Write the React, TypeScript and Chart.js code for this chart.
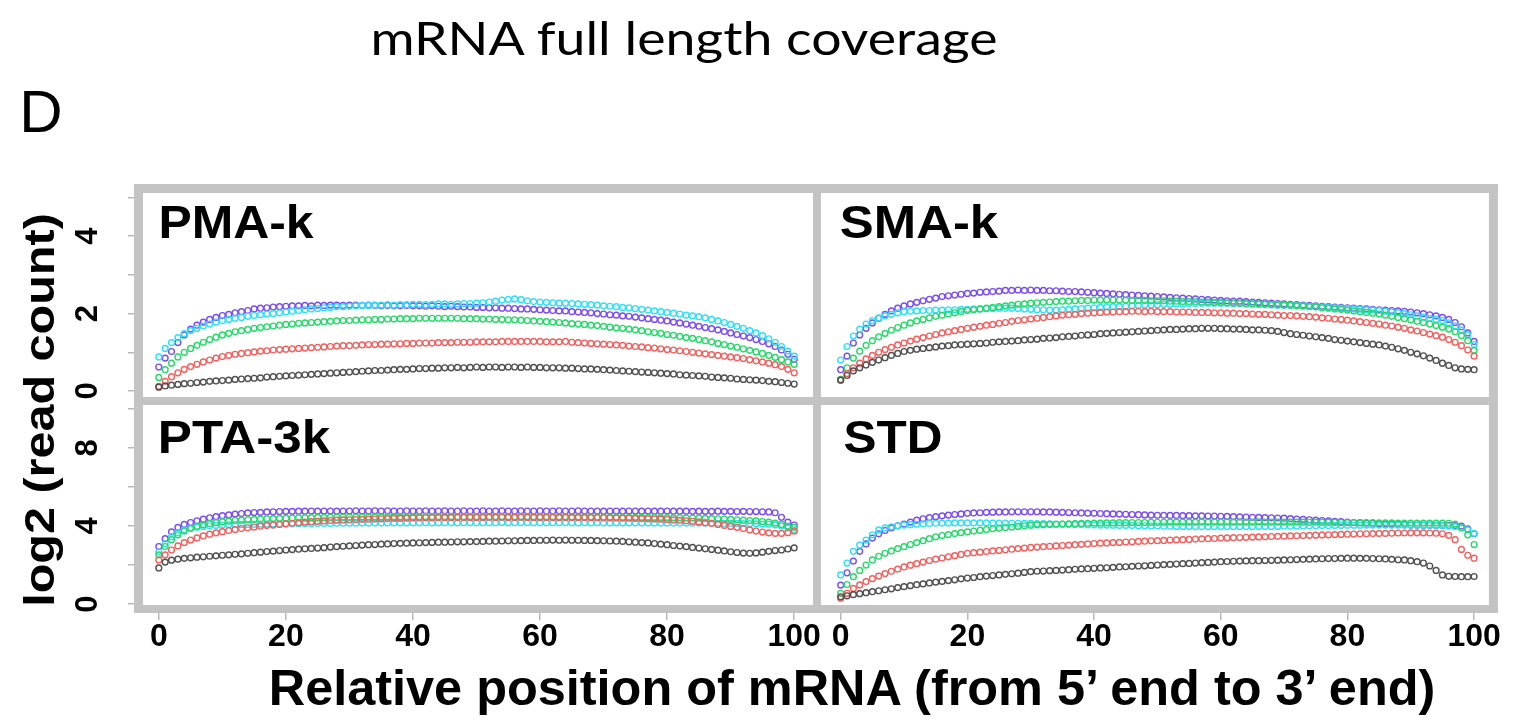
import React, { useEffect, useLayoutEffect, useRef, useState } from 'react';
import { Chart, registerables } from 'chart.js';

Chart.register(...registerables);

// ---------------- data ----------------
const POSITIONS: number[] = Array.from({ length: 101 }, (_, i) => i);
const X_TICKS = [0, 20, 40, 60, 80, 100];
const Y_TOP_TICKS = [0, 1, 2, 3, 4, 5];
const Y_TOP_LABELS = [0, 2, 4];
const Y_BOTTOM_TICKS = [0, 2, 4, 6, 8, 10];
const Y_BOTTOM_LABELS = [0, 4, 8];
const PANEL_NAMES = ['PMA-k', 'SMA-k', 'PTA-3k', 'STD'];
const SERIES_COLORS = ['#505050', '#f0605e', '#27d86a', '#2ee0f5', '#7b4cf2'];

const PMA_K_PURPLE = [0.62, 0.85, 1.02, 1.25, 1.45, 1.6, 1.7, 1.78, 1.85, 1.9, 1.95,
  1.98, 2.02, 2.05, 2.08, 2.12, 2.14, 2.15, 2.17, 2.18, 2.19,
  2.2, 2.2, 2.21, 2.2, 2.22, 2.21, 2.22, 2.22, 2.21, 2.22,
  2.22, 2.21, 2.22, 2.21, 2.2, 2.21, 2.2, 2.2, 2.21, 2.2,
  2.2, 2.19, 2.2, 2.19, 2.18, 2.19, 2.18, 2.17, 2.17, 2.16,
  2.16, 2.15, 2.15, 2.14, 2.14, 2.13, 2.12, 2.12, 2.11, 2.1,
  2.09, 2.08, 2.07, 2.07, 2.05, 2.04, 2.03, 2.02, 2.0, 1.99,
  1.97, 1.96, 1.94, 1.93, 1.91, 1.89, 1.87, 1.85, 1.83, 1.81,
  1.78, 1.76, 1.73, 1.7, 1.67, 1.64, 1.61, 1.58, 1.54, 1.5,
  1.46, 1.42, 1.38, 1.33, 1.28, 1.22, 1.15, 1.06, 0.95, 0.82, 0.65];
const PMA_K_CYAN = [0.88, 1.1, 1.25, 1.38, 1.48, 1.56, 1.62, 1.68, 1.73, 1.78, 1.82,
  1.85, 1.88, 1.9, 1.93, 1.95, 1.97, 1.99, 2.0, 2.02, 2.04,
  2.06, 2.08, 2.1, 2.12, 2.13, 2.15, 2.16, 2.18, 2.18, 2.19,
  2.2, 2.21, 2.21, 2.22, 2.22, 2.23, 2.22, 2.23, 2.23, 2.24,
  2.24, 2.23, 2.24, 2.25, 2.25, 2.24, 2.25, 2.26, 2.26, 2.27,
  2.28, 2.3, 2.32, 2.35, 2.37, 2.38, 2.36, 2.33, 2.31, 2.3,
  2.29, 2.28, 2.27, 2.27, 2.26, 2.25, 2.24, 2.23, 2.22, 2.2,
  2.19, 2.18, 2.16, 2.15, 2.13, 2.11, 2.09, 2.07, 2.05, 2.03,
  2.01, 1.99, 1.96, 1.94, 1.92, 1.89, 1.85, 1.81, 1.77, 1.72,
  1.67, 1.62, 1.56, 1.5, 1.43, 1.35, 1.26, 1.15, 1.03, 0.9, 0.76];
const PMA_K_GREEN = [0.35, 0.55, 0.72, 0.88, 1.0, 1.1, 1.18, 1.26, 1.33, 1.39, 1.45,
  1.49, 1.53, 1.56, 1.59, 1.62, 1.64, 1.66, 1.68, 1.7, 1.72,
  1.73, 1.75, 1.76, 1.77, 1.78, 1.79, 1.8, 1.81, 1.82, 1.82,
  1.83, 1.84, 1.84, 1.85, 1.85, 1.86, 1.86, 1.87, 1.87, 1.87,
  1.88, 1.88, 1.88, 1.88, 1.88, 1.88, 1.88, 1.87, 1.87, 1.87,
  1.86, 1.86, 1.85, 1.85, 1.84, 1.84, 1.83, 1.82, 1.81, 1.8,
  1.79, 1.78, 1.77, 1.76, 1.74, 1.73, 1.72, 1.7, 1.69, 1.67,
  1.65, 1.63, 1.62, 1.6, 1.58, 1.56, 1.53, 1.51, 1.49, 1.46,
  1.44, 1.41, 1.38, 1.36, 1.33, 1.3, 1.27, 1.23, 1.2, 1.16,
  1.13, 1.09, 1.05, 1.01, 0.97, 0.92, 0.87, 0.81, 0.75, 0.69, 0.62];
const PMA_K_RED = [0.12, 0.25, 0.37, 0.47, 0.56, 0.63, 0.69, 0.75, 0.8, 0.85, 0.89,
  0.92, 0.95, 0.97, 0.99, 1.01, 1.03, 1.04, 1.06, 1.07, 1.08,
  1.09, 1.1, 1.11, 1.12, 1.13, 1.14, 1.15, 1.16, 1.17, 1.17,
  1.18, 1.19, 1.2, 1.2, 1.21, 1.21, 1.22, 1.22, 1.23, 1.23,
  1.24, 1.24, 1.24, 1.25, 1.25, 1.25, 1.26, 1.26, 1.26, 1.27,
  1.27, 1.27, 1.27, 1.28, 1.28, 1.28, 1.28, 1.28, 1.28, 1.28,
  1.27, 1.27, 1.27, 1.28, 1.26, 1.25, 1.24, 1.23, 1.22, 1.21,
  1.2, 1.19, 1.18, 1.16, 1.15, 1.14, 1.12, 1.11, 1.09, 1.07,
  1.06, 1.04, 1.02, 1.0, 0.98, 0.96, 0.94, 0.92, 0.9, 0.88,
  0.86, 0.84, 0.81, 0.78, 0.75, 0.72, 0.68, 0.63, 0.56, 0.47, 0.37];
const PMA_K_BLACK = [0.1, 0.13, 0.15, 0.17, 0.19, 0.2, 0.22, 0.23, 0.25, 0.26, 0.27,
  0.28, 0.3, 0.31, 0.32, 0.33, 0.34, 0.36, 0.37, 0.38, 0.39,
  0.4, 0.41, 0.42, 0.43, 0.44, 0.45, 0.46, 0.47, 0.48, 0.49,
  0.5, 0.51, 0.52, 0.53, 0.53, 0.54, 0.55, 0.56, 0.56, 0.57,
  0.58, 0.58, 0.59, 0.59, 0.6, 0.6, 0.61, 0.6, 0.61, 0.62,
  0.61, 0.62, 0.62, 0.61, 0.62, 0.62, 0.61, 0.62, 0.61, 0.61,
  0.6, 0.6, 0.6, 0.59, 0.59, 0.58, 0.57, 0.57, 0.56, 0.55,
  0.54, 0.53, 0.52, 0.51, 0.5, 0.49, 0.48, 0.47, 0.46, 0.45,
  0.44, 0.42, 0.41, 0.4, 0.39, 0.38, 0.36, 0.35, 0.34, 0.33,
  0.31, 0.3, 0.29, 0.28, 0.27, 0.25, 0.24, 0.22, 0.2, 0.18, 0.16];

const SMA_K_PURPLE = [0.55, 0.9, 1.24, 1.45, 1.62, 1.76, 1.88, 1.98, 2.07, 2.14, 2.2,
  2.25, 2.29, 2.33, 2.37, 2.4, 2.44, 2.46, 2.48, 2.5, 2.52,
  2.53, 2.55, 2.56, 2.57, 2.58, 2.6, 2.6, 2.61, 2.6, 2.61,
  2.6, 2.6, 2.59, 2.59, 2.58, 2.57, 2.57, 2.56, 2.55, 2.54,
  2.53, 2.52, 2.51, 2.5, 2.49, 2.48, 2.47, 2.46, 2.45, 2.44,
  2.43, 2.42, 2.41, 2.4, 2.39, 2.38, 2.37, 2.36, 2.35, 2.34,
  2.33, 2.32, 2.32, 2.31, 2.3, 2.29, 2.28, 2.27, 2.26, 2.25,
  2.24, 2.23, 2.22, 2.21, 2.2, 2.19, 2.18, 2.17, 2.16, 2.15,
  2.14, 2.13, 2.12, 2.11, 2.1, 2.09, 2.08, 2.07, 2.06, 2.04,
  2.02, 2.0, 1.97, 1.94, 1.9, 1.85, 1.77, 1.66, 1.5, 1.28, 1.02];
const SMA_K_CYAN = [0.8, 1.15, 1.42, 1.6, 1.73, 1.82, 1.89, 1.94, 1.98, 2.02, 2.05,
  2.06, 2.07, 2.08, 2.08, 2.09, 2.09, 2.1, 2.1, 2.11, 2.11,
  2.12, 2.12, 2.13, 2.13, 2.14, 2.14, 2.14, 2.13, 2.12, 2.11,
  2.1, 2.1, 2.09, 2.09, 2.1, 2.11, 2.12, 2.13, 2.14, 2.15,
  2.16, 2.17, 2.18, 2.18, 2.19, 2.2, 2.21, 2.22, 2.22, 2.23,
  2.24, 2.24, 2.25, 2.25, 2.26, 2.26, 2.27, 2.27, 2.27, 2.27,
  2.27, 2.26, 2.26, 2.25, 2.25, 2.24, 2.24, 2.23, 2.23, 2.22,
  2.22, 2.21, 2.2, 2.19, 2.18, 2.17, 2.16, 2.15, 2.14, 2.13,
  2.12, 2.11, 2.1, 2.09, 2.08, 2.06, 2.04, 2.02, 2.0, 1.97,
  1.94, 1.91, 1.88, 1.85, 1.82, 1.76, 1.68, 1.58, 1.45, 1.2, 0.93];
const SMA_K_GREEN = [0.3, 0.6, 0.85, 1.03, 1.18, 1.3, 1.4, 1.49, 1.57, 1.64, 1.7,
  1.76, 1.81, 1.85, 1.89, 1.93, 1.96, 1.99, 2.02, 2.05, 2.08,
  2.1, 2.12, 2.14, 2.16, 2.18, 2.2, 2.22, 2.24, 2.25, 2.27,
  2.28, 2.29, 2.3, 2.31, 2.32, 2.32, 2.33, 2.34, 2.34, 2.35,
  2.35, 2.35, 2.35, 2.35, 2.35, 2.34, 2.34, 2.34, 2.33, 2.33,
  2.33, 2.32, 2.32, 2.31, 2.31, 2.31, 2.3, 2.3, 2.29, 2.29,
  2.28, 2.27, 2.27, 2.26, 2.25, 2.25, 2.24, 2.23, 2.22, 2.22,
  2.21, 2.2, 2.19, 2.18, 2.17, 2.15, 2.14, 2.12, 2.11, 2.09,
  2.07, 2.05, 2.03, 2.01, 1.99, 1.96, 1.93, 1.9, 1.87, 1.84,
  1.8, 1.77, 1.73, 1.69, 1.65, 1.6, 1.53, 1.43, 1.3, 1.05, 0.76];
const SMA_K_RED = [0.28, 0.45, 0.6, 0.72, 0.83, 0.92, 1.0, 1.07, 1.13, 1.19, 1.24,
  1.29, 1.34, 1.38, 1.42, 1.46, 1.5, 1.53, 1.56, 1.59, 1.62,
  1.65, 1.67, 1.7, 1.72, 1.75, 1.77, 1.8, 1.82, 1.84, 1.86,
  1.88, 1.9, 1.92, 1.94, 1.96, 1.97, 1.98, 2.0, 2.01, 2.02,
  2.03, 2.04, 2.04, 2.05, 2.05, 2.06, 2.06, 2.05, 2.06, 2.05,
  2.05, 2.05, 2.04, 2.04, 2.04, 2.03, 2.03, 2.03, 2.02, 2.02,
  2.01, 2.01, 2.0, 2.0, 1.99, 1.98, 1.98, 1.97, 1.96, 1.95,
  1.95, 1.94, 1.93, 1.92, 1.91, 1.89, 1.88, 1.86, 1.85, 1.83,
  1.81, 1.79, 1.77, 1.75, 1.73, 1.7, 1.68, 1.65, 1.62, 1.58,
  1.55, 1.51, 1.47, 1.43, 1.39, 1.33, 1.26, 1.17, 1.06, 0.9, 0.76];
const SMA_K_BLACK = [0.28, 0.4, 0.52, 0.6, 0.67, 0.74, 0.8, 0.86, 0.92, 0.97, 1.02,
  1.05, 1.08, 1.1, 1.12, 1.14, 1.16, 1.17, 1.19, 1.2, 1.21,
  1.22, 1.23, 1.24, 1.26, 1.27, 1.28, 1.29, 1.3, 1.32, 1.33,
  1.34, 1.36, 1.37, 1.38, 1.4, 1.41, 1.42, 1.44, 1.45, 1.46,
  1.48, 1.49, 1.5, 1.51, 1.52, 1.53, 1.54, 1.55, 1.56, 1.57,
  1.58, 1.59, 1.59, 1.6, 1.61, 1.61, 1.62, 1.62, 1.62, 1.61,
  1.61, 1.6, 1.6, 1.59, 1.58, 1.58, 1.57, 1.56, 1.54, 1.51,
  1.48, 1.46, 1.44, 1.42, 1.4, 1.38, 1.36, 1.33, 1.31, 1.29,
  1.27, 1.25, 1.23, 1.21, 1.19, 1.16, 1.13, 1.09, 1.05, 1.0,
  0.96, 0.91, 0.85, 0.79, 0.72, 0.66, 0.6, 0.57, 0.56, 0.55, 0.54];

const PTA_3K_PURPLE = [2.95, 3.35, 3.7, 3.93, 4.08, 4.18, 4.27, 4.35, 4.42, 4.48, 4.53,
  4.57, 4.61, 4.64, 4.67, 4.69, 4.7, 4.72, 4.73, 4.74, 4.75,
  4.75, 4.76, 4.76, 4.77, 4.76, 4.77, 4.77, 4.76, 4.77, 4.77,
  4.78, 4.77, 4.77, 4.78, 4.77, 4.78, 4.77, 4.77, 4.78, 4.77,
  4.77, 4.78, 4.77, 4.77, 4.78, 4.77, 4.77, 4.78, 4.77, 4.77,
  4.78, 4.77, 4.77, 4.78, 4.77, 4.77, 4.78, 4.77, 4.77, 4.78,
  4.77, 4.77, 4.78, 4.77, 4.77, 4.78, 4.77, 4.77, 4.77, 4.76,
  4.77, 4.77, 4.76, 4.77, 4.77, 4.76, 4.77, 4.76, 4.76, 4.77,
  4.76, 4.76, 4.76, 4.75, 4.76, 4.75, 4.75, 4.76, 4.75, 4.75,
  4.74, 4.75, 4.74, 4.74, 4.73, 4.72, 4.68, 4.45, 4.2, 4.05, 3.98];
const PTA_3K_CYAN = [2.68, 3.1, 3.45, 3.66, 3.8, 3.88, 3.94, 3.98, 4.01, 4.03, 4.05,
  4.06, 4.07, 4.08, 4.08, 4.09, 4.09, 4.1, 4.1, 4.1, 4.11,
  4.11, 4.12, 4.12, 4.12, 4.13, 4.13, 4.13, 4.14, 4.14, 4.14,
  4.14, 4.15, 4.15, 4.15, 4.15, 4.16, 4.16, 4.16, 4.16, 4.16,
  4.17, 4.17, 4.16, 4.17, 4.17, 4.17, 4.16, 4.17, 4.17, 4.17,
  4.17, 4.17, 4.17, 4.18, 4.17, 4.17, 4.17, 4.18, 4.17, 4.17,
  4.17, 4.17, 4.17, 4.17, 4.17, 4.16, 4.17, 4.16, 4.17, 4.16,
  4.16, 4.16, 4.16, 4.16, 4.16, 4.15, 4.16, 4.15, 4.15, 4.15,
  4.15, 4.15, 4.15, 4.14, 4.15, 4.14, 4.14, 4.14, 4.13, 4.13,
  4.13, 4.12, 4.12, 4.11, 4.1, 4.09, 4.06, 4.0, 3.9, 3.8, 3.71];
const PTA_3K_GREEN = [2.52, 2.95, 3.3, 3.55, 3.74, 3.88, 3.99, 4.07, 4.13, 4.18, 4.22,
  4.25, 4.28, 4.3, 4.32, 4.34, 4.36, 4.37, 4.38, 4.39, 4.4,
  4.41, 4.42, 4.42, 4.43, 4.44, 4.44, 4.45, 4.45, 4.46, 4.46,
  4.46, 4.47, 4.47, 4.47, 4.47, 4.48, 4.48, 4.48, 4.48, 4.48,
  4.48, 4.49, 4.48, 4.49, 4.48, 4.49, 4.48, 4.48, 4.49, 4.48,
  4.49, 4.48, 4.48, 4.49, 4.48, 4.48, 4.49, 4.48, 4.48, 4.48,
  4.48, 4.48, 4.47, 4.48, 4.47, 4.47, 4.47, 4.47, 4.46, 4.46,
  4.46, 4.46, 4.45, 4.45, 4.45, 4.44, 4.44, 4.44, 4.43, 4.43,
  4.42, 4.42, 4.41, 4.41, 4.4, 4.39, 4.38, 4.37, 4.36, 4.34,
  4.32, 4.3, 4.28, 4.26, 4.23, 4.2, 4.15, 4.08, 4.0, 3.93, 3.88];
const PTA_3K_RED = [2.26, 2.52, 2.77, 2.98, 3.15, 3.28, 3.39, 3.49, 3.58, 3.65, 3.71,
  3.77, 3.82, 3.87, 3.91, 3.95, 3.99, 4.02, 4.05, 4.08, 4.11,
  4.14, 4.17, 4.2, 4.22, 4.24, 4.26, 4.28, 4.3, 4.31, 4.32,
  4.33, 4.34, 4.35, 4.36, 4.37, 4.38, 4.39, 4.39, 4.4, 4.41,
  4.41, 4.42, 4.42, 4.43, 4.43, 4.43, 4.44, 4.44, 4.44, 4.44,
  4.44, 4.45, 4.44, 4.45, 4.44, 4.44, 4.45, 4.44, 4.44, 4.44,
  4.44, 4.44, 4.43, 4.44, 4.43, 4.43, 4.43, 4.42, 4.42, 4.42,
  4.41, 4.41, 4.4, 4.4, 4.39, 4.38, 4.37, 4.36, 4.35, 4.33,
  4.31, 4.29, 4.27, 4.24, 4.21, 4.17, 4.13, 4.08, 4.03, 3.98,
  3.93, 3.87, 3.8, 3.74, 3.69, 3.65, 3.62, 3.62, 3.66, 3.73, 3.79];
const PTA_3K_BLACK = [1.85, 2.15, 2.25, 2.3, 2.34, 2.37, 2.4, 2.42, 2.45, 2.47, 2.5,
  2.52, 2.55, 2.57, 2.6, 2.63, 2.66, 2.69, 2.71, 2.74, 2.77,
  2.79, 2.81, 2.83, 2.85, 2.87, 2.89, 2.92, 2.94, 2.96, 2.98,
  3.0, 3.02, 3.04, 3.05, 3.07, 3.08, 3.1, 3.11, 3.12, 3.13,
  3.14, 3.15, 3.16, 3.17, 3.17, 3.18, 3.19, 3.19, 3.2, 3.2,
  3.21, 3.22, 3.22, 3.23, 3.24, 3.24, 3.25, 3.26, 3.26, 3.27,
  3.27, 3.28, 3.27, 3.28, 3.27, 3.27, 3.26, 3.26, 3.25, 3.24,
  3.23, 3.22, 3.21, 3.19, 3.17, 3.15, 3.13, 3.1, 3.07, 3.04,
  3.0, 2.97, 2.94, 2.9, 2.87, 2.83, 2.8, 2.76, 2.72, 2.68,
  2.64, 2.61, 2.6, 2.62, 2.66, 2.7, 2.74, 2.77, 2.82, 2.88, 2.94];

const STD_PURPLE = [0.97, 1.6, 2.2, 2.7, 3.08, 3.38, 3.6, 3.77, 3.9, 4.01, 4.1,
  4.2, 4.3, 4.37, 4.43, 4.48, 4.52, 4.56, 4.59, 4.62, 4.65,
  4.67, 4.68, 4.7, 4.71, 4.72, 4.72, 4.73, 4.73, 4.73, 4.73,
  4.73, 4.72, 4.72, 4.71, 4.7, 4.69, 4.68, 4.67, 4.66, 4.65,
  4.64, 4.63, 4.62, 4.61, 4.6, 4.59, 4.58, 4.57, 4.56, 4.55,
  4.55, 4.54, 4.54, 4.53, 4.53, 4.52, 4.52, 4.51, 4.51, 4.5,
  4.49, 4.48, 4.47, 4.46, 4.45, 4.44, 4.43, 4.42, 4.41, 4.4,
  4.38, 4.36, 4.34, 4.32, 4.3, 4.28, 4.26, 4.24, 4.22, 4.2,
  4.18, 4.17, 4.15, 4.14, 4.12, 4.11, 4.1, 4.08, 4.07, 4.05,
  4.05, 4.04, 4.04, 4.03, 4.03, 4.02, 4.02, 4.0, 3.85, 3.6, 3.25];
const STD_CYAN = [1.49, 2.1, 2.7, 3.02, 3.28, 3.55, 3.8, 3.9, 3.96, 4.01, 4.05,
  4.07, 4.09, 4.11, 4.13, 4.14, 4.15, 4.15, 4.16, 4.16, 4.16,
  4.16, 4.16, 4.16, 4.15, 4.15, 4.15, 4.14, 4.14, 4.13, 4.13,
  4.12, 4.12, 4.11, 4.1, 4.1, 4.09, 4.08, 4.08, 4.07, 4.06,
  4.05, 4.05, 4.04, 4.03, 4.03, 4.02, 4.01, 4.01, 4.0, 4.0,
  3.99, 3.99, 3.98, 3.98, 3.98, 3.97, 3.97, 3.97, 3.97, 3.97,
  3.97, 3.97, 3.97, 3.97, 3.97, 3.98, 3.98, 3.98, 3.98, 3.99,
  3.99, 4.0, 4.0, 4.01, 4.01, 4.02, 4.02, 4.03, 4.03, 4.04,
  4.04, 4.04, 4.05, 4.05, 4.05, 4.05, 4.05, 4.05, 4.05, 4.05,
  4.05, 4.04, 4.04, 4.03, 4.02, 4.0, 3.97, 3.92, 3.8, 3.62, 3.45];
const STD_GREEN = [0.55, 1.0, 1.4, 1.72, 2.0, 2.26, 2.45, 2.6, 2.72, 2.84, 2.94,
  3.05, 3.15, 3.25, 3.35, 3.45, 3.51, 3.56, 3.61, 3.66, 3.7,
  3.74, 3.78, 3.82, 3.86, 3.89, 3.92, 3.95, 3.98, 4.01, 4.04,
  4.06, 4.07, 4.08, 4.09, 4.1, 4.11, 4.12, 4.13, 4.14, 4.15,
  4.15, 4.16, 4.16, 4.17, 4.17, 4.18, 4.18, 4.18, 4.19, 4.19,
  4.19, 4.2, 4.2, 4.2, 4.2, 4.2, 4.21, 4.2, 4.21, 4.2,
  4.21, 4.2, 4.21, 4.2, 4.2, 4.21, 4.2, 4.2, 4.2, 4.2,
  4.2, 4.2, 4.2, 4.19, 4.2, 4.19, 4.19, 4.19, 4.18, 4.18,
  4.18, 4.17, 4.17, 4.17, 4.16, 4.16, 4.16, 4.15, 4.15, 4.15,
  4.15, 4.15, 4.15, 4.15, 4.15, 4.14, 4.1, 3.9, 3.55, 3.05, 2.6];
const STD_RED = [0.3, 0.55, 0.8, 0.98, 1.15, 1.3, 1.43, 1.56, 1.68, 1.79, 1.9,
  1.99, 2.07, 2.15, 2.23, 2.3, 2.36, 2.42, 2.48, 2.54, 2.6,
  2.63, 2.66, 2.69, 2.72, 2.75, 2.78, 2.81, 2.84, 2.87, 2.9,
  2.92, 2.94, 2.96, 2.98, 3.0, 3.02, 3.04, 3.06, 3.08, 3.1,
  3.12, 3.13, 3.15, 3.16, 3.18, 3.19, 3.21, 3.22, 3.24, 3.25,
  3.26, 3.28, 3.29, 3.3, 3.31, 3.33, 3.34, 3.35, 3.36, 3.38,
  3.39, 3.4, 3.41, 3.42, 3.43, 3.44, 3.45, 3.46, 3.47, 3.48,
  3.49, 3.5, 3.51, 3.52, 3.53, 3.54, 3.55, 3.56, 3.57, 3.58,
  3.59, 3.6, 3.6, 3.61, 3.62, 3.62, 3.63, 3.64, 3.64, 3.65,
  3.65, 3.65, 3.64, 3.63, 3.6, 3.52, 3.3, 2.8, 2.5, 2.35, 2.3];
const STD_BLACK = [0.37, 0.42, 0.48, 0.53, 0.58, 0.63, 0.68, 0.73, 0.78, 0.84, 0.89,
  0.94, 0.99, 1.03, 1.08, 1.12, 1.16, 1.2, 1.24, 1.29, 1.33,
  1.36, 1.4, 1.43, 1.46, 1.49, 1.52, 1.55, 1.58, 1.62, 1.66,
  1.68, 1.69, 1.71, 1.72, 1.74, 1.76, 1.78, 1.8, 1.81, 1.83,
  1.85, 1.86, 1.88, 1.9, 1.91, 1.93, 1.95, 1.96, 1.98, 2.0,
  2.02, 2.03, 2.05, 2.07, 2.08, 2.1, 2.12, 2.13, 2.15, 2.17,
  2.18, 2.19, 2.2, 2.21, 2.22, 2.22, 2.23, 2.24, 2.25, 2.26,
  2.27, 2.28, 2.29, 2.3, 2.31, 2.32, 2.33, 2.33, 2.34, 2.35,
  2.35, 2.34, 2.34, 2.33, 2.32, 2.31, 2.29, 2.27, 2.26, 2.22,
  2.17, 2.1, 1.95, 1.72, 1.49, 1.42, 1.41, 1.4, 1.4, 1.41, 1.4];

// order within each panel: black, red, green, cyan, purple
const PANEL_SERIES = [
  [PMA_K_BLACK, PMA_K_RED, PMA_K_GREEN, PMA_K_CYAN, PMA_K_PURPLE],
  [SMA_K_BLACK, SMA_K_RED, SMA_K_GREEN, SMA_K_CYAN, SMA_K_PURPLE],
  [PTA_3K_BLACK, PTA_3K_RED, PTA_3K_GREEN, PTA_3K_CYAN, PTA_3K_PURPLE],
  [STD_BLACK, STD_RED, STD_GREEN, STD_CYAN, STD_PURPLE],
];
const PANEL_AXES = [['x1', 'y1'], ['x2', 'y1'], ['x1', 'y2'], ['x2', 'y2']];

const TICK_FAMILY = '"Liberation Sans Narrow", "Liberation Sans", Arial, sans-serif';

// ---------------- helpers ----------------
function FitText(props: { text: string; cx: number; cy: number; width: number; font: string; rotate?: boolean }) {
  const { text, cx, cy, width, font, rotate } = props;
  const ref = useRef<HTMLSpanElement>(null);
  const [scale, setScale] = useState(1);
  useLayoutEffect(() => {
    if (ref.current) {
      const w = ref.current.offsetWidth;
      if (w > 0) setScale(width / w);
    }
  }, [text, width, font]);
  return (
    <span
      ref={ref}
      style={{
        position: 'absolute',
        left: cx,
        top: cy,
        whiteSpace: 'nowrap',
        font,
        lineHeight: 1,
        color: '#000',
        transform: `translate(-50%, -50%)${rotate ? ' rotate(-90deg)' : ''} scaleX(${scale})`,
      }}
    >
      {text}
    </span>
  );
}

const framePlugin = {
  id: 'panelFrame',
  afterDraw(chart: any) {
    const { ctx, chartArea: a, scales } = chart;
    const t = 9;
    ctx.save();
    ctx.fillStyle = '#c3c3c3';
    ctx.fillRect(a.left - t, a.top - t, a.right - a.left + 2 * t, t);
    ctx.fillRect(a.left - t, a.bottom, a.right - a.left + 2 * t, 8);
    ctx.fillRect(a.left - t, a.top - t, t, a.bottom - a.top + t + 8);
    ctx.fillRect(a.right, a.top - t, t, a.bottom - a.top + t + 8);
    const xm = scales.x1.right;
    ctx.fillRect(xm - 4, a.top, 8, a.bottom - a.top);
    const ym = scales.y1.bottom;
    ctx.fillRect(a.left, ym, a.right - a.left, 8);
    ctx.restore();
  },
};

function xScale(min: number, max: number, weight: number, stackWeight: number) {
  return {
    type: 'linear',
    position: 'bottom',
    stack: 'x',
    stackWeight,
    weight,
    min,
    max,
    afterBuildTicks: (s: any) => {
      s.ticks = X_TICKS.map((v) => ({ value: v }));
    },
    afterFit: (s: any) => {
      s.height = 120;
    },
    grid: { drawOnChartArea: false, drawTicks: true, tickLength: 15, color: '#b8b8b8', lineWidth: 1.5 },
    border: { display: false },
    ticks: {
      autoSkip: false,
      maxRotation: 0,
      minRotation: 0,
      padding: 1,
      color: '#000',
      font: { family: TICK_FAMILY, size: 32, weight: 'bold', lineHeight: 1 },
    },
  };
}

function yScale(min: number, max: number, weight: number, stackWeight: number, ticks: number[], labels: number[]) {
  return {
    type: 'linear',
    position: 'left',
    stack: 'y',
    stackWeight,
    weight,
    min,
    max,
    afterBuildTicks: (s: any) => {
      s.ticks = ticks.map((v) => ({ value: v }));
    },
    afterFit: (s: any) => {
      s.width = 143;
    },
    grid: { drawOnChartArea: false, drawTicks: true, tickLength: 15, color: '#b8b8b8', lineWidth: 1.5 },
    border: { display: false },
    ticks: {
      autoSkip: false,
      minRotation: 90,
      maxRotation: 90,
      crossAlign: 'center',
      padding: 31,
      color: '#000',
      font: { family: TICK_FAMILY, size: 31, weight: 'bold', lineHeight: 1 },
      callback: (v: any) => (labels.includes(Number(v)) ? String(v) : ''),
    },
  };
}

export default function App() {
  const canvasRef = useRef<HTMLCanvasElement>(null);

  useEffect(() => {
    document.body.style.margin = '0';
    const canvas = canvasRef.current;
    if (!canvas) return;

    const datasets: any[] = [];
    PANEL_SERIES.forEach((series, p) => {
      series.forEach((vals, s) => {
        datasets.push({
          type: 'scatter',
          label: `${PANEL_NAMES[p]} ${s}`,
          data: POSITIONS.map((x, i) => ({ x, y: vals[i] })),
          xAxisID: PANEL_AXES[p][0],
          yAxisID: PANEL_AXES[p][1],
          showLine: false,
          pointStyle: 'circle',
          pointRadius: 2.9,
          pointBorderWidth: 1.4,
          borderColor: SERIES_COLORS[s],
          pointBorderColor: SERIES_COLORS[s],
          backgroundColor: 'rgba(0,0,0,0)',
          pointBackgroundColor: 'rgba(0,0,0,0)',
        });
      });
    });

    const chart = new Chart(canvas, {
      type: 'scatter',
      data: { datasets },
      options: {
        animation: false,
        responsive: false,
        devicePixelRatio: 1,
        events: [],
        layout: { padding: { top: 193, right: 10, bottom: 0, left: 0 } },
        plugins: { legend: { display: false }, tooltip: { enabled: false }, title: { display: false } },
        scales: {
          x1: xScale(-2.49, 103.58, 0, 681),
          x2: xScale(-3.75, 102.34, 1, 679),
          y1: yScale(-0.155, 5.116, 1, 204, Y_TOP_TICKS, Y_TOP_LABELS),
          y2: yScale(-0.051, 10.615, 0, 208, Y_BOTTOM_TICKS, Y_BOTTOM_LABELS),
        } as any,
      },
      plugins: [framePlugin],
    } as any);

    return () => chart.destroy();
  }, []);

  return (
    <div style={{ position: 'fixed', left: 0, top: 0, width: 1513, height: 725, background: '#fff', overflow: 'hidden' }}>
      <canvas
        ref={canvasRef}
        width={1513}
        height={725}
        style={{ position: 'absolute', left: 0, top: 0, width: 1513, height: 725 }}
      />
      <FitText text="mRNA full length coverage" cx={683.5} cy={38} width={627} font='46px Lato, "Open Sans", sans-serif' />
      <FitText text="D" cx={41} cy={111.5} width={43} font='60px "Liberation Sans", Arial, sans-serif' />
      <FitText text={PANEL_NAMES[0]} cx={158 + 77.5} cy={221} width={155} font='bold 47px "Liberation Sans", Arial, sans-serif' />
      <FitText text={PANEL_NAMES[1]} cx={840 + 79} cy={221} width={158} font='bold 47px "Liberation Sans", Arial, sans-serif' />
      <FitText text={PANEL_NAMES[2]} cx={158 + 86} cy={436} width={172} font='bold 47px "Liberation Sans", Arial, sans-serif' />
      <FitText text={PANEL_NAMES[3]} cx={843 + 49.5} cy={436} width={99} font='bold 47px "Liberation Sans", Arial, sans-serif' />
      <FitText text="log2 (read count)" cx={40} cy={410} width={394} rotate font='bold 42px "Liberation Sans", Arial, sans-serif' />
      <FitText
        text="Relative position of mRNA (from 5’ end to 3’ end)"
        cx={852}
        cy={688}
        width={1167}
        font={`bold 50px ${TICK_FAMILY}`}
      />
    </div>
  );
}
